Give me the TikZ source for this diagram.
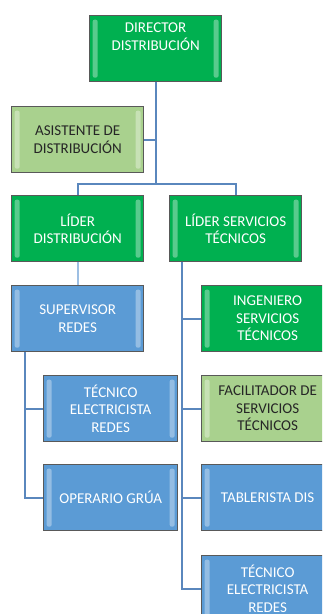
\documentclass[tikz,border=0pt]{standalone}
\usepackage{fontspec}
\setmainfont{Carlito}
\usetikzlibrary{positioning, calc}
\definecolor{oGreen}{HTML}{00B050}
\definecolor{oLightGreen}{HTML}{A9D18E}
\definecolor{oBlue}{HTML}{5B9BD5}
\definecolor{oLine}{HTML}{5A87BD}
\definecolor{oLineLight}{HTML}{9DBFE3}

\begin{document}
\begin{tikzpicture}[
    x=1pt, y=-1pt,
    bevel/.style={path picture={
        \fill[white, opacity=0.35, rounded corners=2pt]
            ([shift={(3pt,-4pt)}]path picture bounding box.north west) rectangle ([shift={(8pt,4pt)}]path picture bounding box.south west);
        \fill[white, opacity=0.35, rounded corners=2pt]
            ([shift={(-3pt,-4pt)}]path picture bounding box.north east) rectangle ([shift={(-8pt,4pt)}]path picture bounding box.south east);
    }},
    box/.style={draw=black!65, line width=1.3pt, minimum width=132pt, minimum height=66pt,
        anchor=north west, align=center, inner sep=2pt, font=\fontsize{15}{17.5}\selectfont, bevel},
    lead/.style={box, fill=oGreen, text=white},
    aide/.style={box, fill=oLightGreen, text=black!85},
    staff/.style={box, fill=oBlue, text=white},
    link/.style={draw=oLine, line width=1.8pt},
]
    \useasboundingbox (0,0) rectangle (322,614);
    \clip (0,0) rectangle (322,614);

    % Dirección y asistente
    \node[lead] (dir) at (89,15) {DIRECTOR\\DISTRIBUCIÓN\\[7pt]\mbox{}};
    \node[aide] (asis) at (11,106) {ASISTENTE DE\\DISTRIBUCIÓN};

    % Líderes
    \node[lead] (ldist) at (11,195) {LÍDER\\DISTRIBUCIÓN};
    \node[lead] (lserv) at (169,195) {LÍDER SERVICIOS\\TÉCNICOS};

    % Rama distribución (izquierda)
    \node[staff] (sup) at (11,285) {SUPERVISOR\\REDES};
    \node[staff, minimum width=134pt] (tecl) at (43,375) {TÉCNICO\\ELECTRICISTA\\REDES};
    \node[staff, minimum width=134pt] (oper) at (43,464) {OPERARIO GRÚA};

    % Rama servicios técnicos (derecha)
    \node[lead] (ing) at (201,285) {INGENIERO\\SERVICIOS\\TÉCNICOS};
    \node[aide] (fac) at (201,375) {FACILITADOR DE\\SERVICIOS\\TÉCNICOS};
    \node[staff] (tab) at (201,464) {TABLERISTA DIS};
    \node[staff] (tecr) at (201,555) {TÉCNICO\\ELECTRICISTA\\REDES};

    % Conectores superiores
    \coordinate (jbus) at (dir.south |- 0,184);
    \draw[link] (dir.south) -- (jbus);
    \draw[link] (asis.east) -- (asis.east -| dir.south);
    \draw[link] (ldist.north) |- (jbus) -| (lserv.north);
    \draw[link, draw=oLineLight] (ldist.south) -- (sup.north);

    % Conectores izquierda
    \coordinate (jsup) at ([xshift=14pt]sup.south west);
    \draw[link] (jsup) |- (tecl.west);
    \draw[link] (jsup) |- (oper.west);

    % Conectores derecha
    \coordinate (jserv) at ([xshift=13pt]lserv.south west);
    \draw[link] (jserv) |- (ing.west);
    \draw[link] (jserv) |- (fac.west);
    \draw[link] (jserv) |- (tab.west);
    \draw[link] (jserv) |- (tecr.west);
\end{tikzpicture}
\end{document}
